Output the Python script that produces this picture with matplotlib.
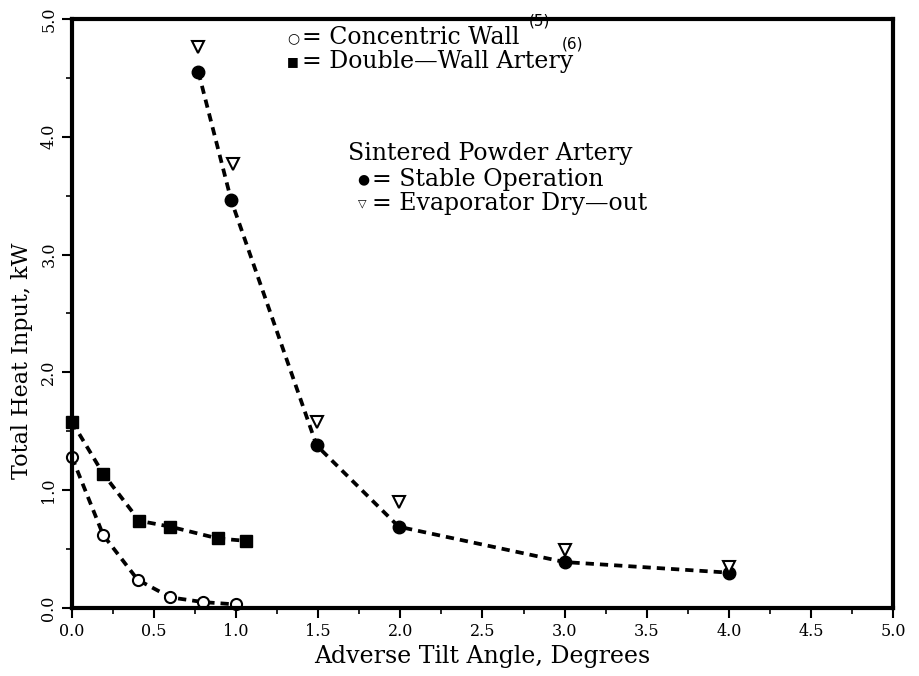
import numpy as np
import matplotlib
matplotlib.use('Agg')
import matplotlib.pyplot as plt

# Dati
x_conc = [0.0, 0.19, 0.40, 0.60, 0.80, 1.00]
y_conc = [1.28, 0.62, 0.24, 0.09, 0.05, 0.03]

x_dw = [0.0, 0.19, 0.41, 0.60, 0.89, 1.06]
y_dw = [1.58, 1.14, 0.74, 0.69, 0.59, 0.57]

x_stab = [0.77, 0.97, 1.49, 1.99, 3.0, 4.0]
y_stab = [4.55, 3.46, 1.38, 0.69, 0.39, 0.30]

x_dry = [0.77, 0.98, 1.49, 1.99, 3.0, 4.0]
y_dry = [4.76, 3.77, 1.58, 0.90, 0.49, 0.35]

xticks = np.arange(0, 5.01, 0.5)
yticks = np.arange(0, 5.01, 1.0)

serif = 'DejaVu Serif'
dash = (0, (2.2, 1.6))

fig = plt.figure(figsize=(9.19, 6.76), dpi=100)
ax = fig.add_axes([0.0783, 0.1006, 0.8934, 0.8713])

ax.plot(x_conc, y_conc, linestyle=dash, color='black', lw=2.7,
        marker='o', mfc='white', mec='black', ms=8, mew=1.5, clip_on=False)
ax.plot(x_dw, y_dw, linestyle=dash, color='black', lw=2.7,
        marker='s', mfc='black', mec='black', ms=8, clip_on=False)
ax.plot(x_stab, y_stab, linestyle=dash, color='black', lw=2.7,
        marker='o', mfc='black', mec='black', ms=9, clip_on=False)
ax.plot(x_dry, y_dry, linestyle='', marker='v', mfc='white', mec='black',
        ms=8, mew=1.5, clip_on=False)

ax.set_xlim(0, 5)
ax.set_ylim(0, 5)
ax.set_xticks(xticks)
ax.set_xticklabels(['%.1f' % t for t in xticks], family=serif)
ax.set_xticks(np.arange(0, 5.01, 0.25), minor=True)
ax.set_yticks(yticks)
ax.set_yticklabels(['%.1f' % t for t in yticks], rotation=90, va='center', family=serif)
ax.set_yticks(np.arange(0, 5.01, 0.5), minor=True)
ax.tick_params(which='major', direction='out', length=7, width=1.5, labelsize=11.5)
ax.tick_params(which='minor', direction='out', length=4, width=1.2)
for s in ax.spines.values():
    s.set_linewidth(3)

ax.set_xlabel('Adverse Tilt Angle, Degrees', fontsize=17, family=serif, labelpad=4)
ax.set_ylabel('Total Heat Input, kW', fontsize=16, family=serif)
ax.yaxis.set_label_coords(-0.048, 0.42)

# "legenda" scritta a mano come nell'originale
fs = 17
ax.text(1.31, 4.84, '○', fontsize=10, family='DejaVu Sans', va='center')
ax.text(1.40, 4.84, '= Concentric Wall', fontsize=fs, family=serif, va='center')
ax.text(2.78, 4.98, '(5)', fontsize=11, family='DejaVu Sans', va='center')
ax.text(2.98, 4.79, '(6)', fontsize=11, family='DejaVu Sans', va='center')
ax.text(1.31, 4.64, '■', fontsize=9, family='DejaVu Sans', va='center')
ax.text(1.40, 4.64, '= Double\u2014Wall Artery', fontsize=fs, family=serif, va='center')

ax.text(1.68, 3.86, 'Sintered Powder Artery', fontsize=fs, family=serif, va='center')
ax.text(1.74, 3.64, '●', fontsize=10, family='DejaVu Sans', va='center')
ax.text(1.83, 3.64, '= Stable Operation', fontsize=fs, family=serif, va='center')
ax.text(1.74, 3.43, '▽', fontsize=8, family='DejaVu Sans', va='center')
ax.text(1.83, 3.43, '= Evaporator Dry\u2014out', fontsize=fs, family=serif, va='center')

plt.savefig('out.png', dpi=100)
